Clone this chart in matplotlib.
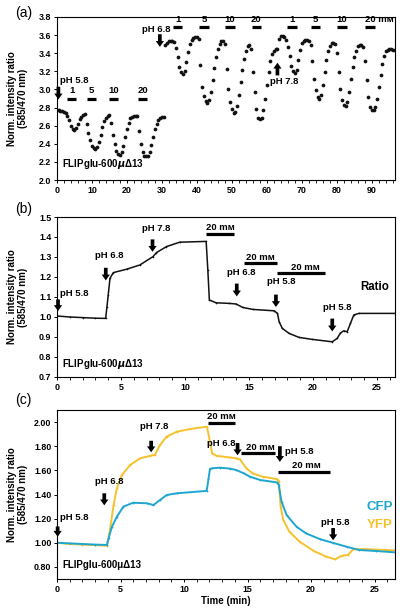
import numpy as np
import matplotlib
matplotlib.use("Agg")
import matplotlib.pyplot as plt
from matplotlib.ticker import MultipleLocator, FormatStrFormatter

plt.rcParams['font.family'] = ['Liberation Sans', 'DejaVu Sans']
plt.rcParams['font.weight'] = 'bold'
plt.rcParams['mathtext.fontset'] = 'dejavusans'

# ---------------- Panel (a) data (sampled every 0.5 min) ----------------
a_t1 = np.arange(0, 30.51, 0.5)
a_v1 = [2.77, 2.77, 2.76, 2.76, 2.75, 2.74, 2.71, 2.66, 2.60, 2.56, 2.55, 2.57, 2.62, 2.67, 2.70, 2.72, 2.73,
        2.62, 2.52, 2.44, 2.38, 2.35, 2.34, 2.36, 2.42, 2.50, 2.58, 2.65, 2.69, 2.71, 2.72,
        2.63, 2.50, 2.40, 2.32, 2.29, 2.28, 2.31, 2.38, 2.47, 2.56, 2.63, 2.68, 2.70, 2.71, 2.71, 2.71,
        2.54, 2.40, 2.31, 2.27, 2.26, 2.27, 2.31, 2.39, 2.48, 2.56, 2.62, 2.66, 2.69, 2.70, 2.70]
a_t2 = np.arange(31, 63.01, 0.5)
a_v2 = [3.49, 3.51, 3.53, 3.54, 3.54, 3.52, 3.46, 3.36, 3.25, 3.19, 3.17, 3.20, 3.30, 3.41, 3.50, 3.55, 3.57, 3.58, 3.58, 3.56,
        3.27, 3.03, 2.93, 2.87, 2.85, 2.88, 2.97, 3.10, 3.24, 3.36, 3.45, 3.50, 3.53, 3.53, 3.50,
        3.23, 3.01, 2.86, 2.78, 2.74, 2.75, 2.82, 2.94, 3.08, 3.22, 3.34, 3.43, 3.48, 3.49, 3.45,
        3.19, 2.97, 2.78, 2.69, 2.67, 2.69, 2.77, 2.90, 3.05, 3.19, 3.31, 3.39, 3.43, 3.45, 3.45]
a_t3 = np.arange(63.5, 96.51, 0.5)
a_v3 = [3.56, 3.59, 3.59, 3.58, 3.55, 3.47, 3.37, 3.26, 3.20, 3.18, 3.22, 3.33, 3.44, 3.51, 3.54, 3.55, 3.55, 3.54, 3.49,
        3.31, 3.12, 2.99, 2.92, 2.90, 2.94, 3.05, 3.19, 3.32, 3.42, 3.48, 3.51, 3.51, 3.50,
        3.40, 3.19, 3.00, 2.88, 2.83, 2.82, 2.86, 2.97, 3.11, 3.25, 3.36, 3.43, 3.48, 3.49, 3.49, 3.47,
        3.31, 3.10, 2.92, 2.81, 2.77, 2.77, 2.81, 2.90, 3.03, 3.16, 3.28, 3.37, 3.42, 3.44, 3.45, 3.45, 3.44, 3.44]
a_bar_labels = ['1', '5', '10', '20']
a_bars1 = [(2.95, 5.4), (8.5, 11.1), (15.0, 17.5), (23.2, 25.8)]
a_bars2 = [(33.2, 35.8), (40.7, 43.4), (48.0, 50.9), (55.6, 58.2)]
a_bars3 = [(65.8, 68.5), (72.5, 75.1), (79.9, 82.8), (88.0, 90.9)]

# ---------------- Panel (b) data ----------------
b_t = [0, 1, 2, 3, 3.8, 3.9, 4.0, 4.14, 4.4, 5.44, 6.47, 7.5, 7.77, 8.55, 9.58, 11.65, 11.78, 11.9,
       12.43, 13.47, 13.99, 14.5, 15.28, 16.96, 17.22, 17.35, 17.6, 18.13, 18.9, 19.94, 21.5, 21.88,
       22.14, 22.4, 22.66, 22.92, 23.18, 23.57, 26.4]
b_v = [1.005, 1.0, 0.997, 0.994, 0.993, 1.05, 1.11, 1.194, 1.222, 1.239, 1.26, 1.302, 1.322, 1.352,
       1.374, 1.378, 1.236, 1.085, 1.071, 1.068, 1.065, 1.048, 1.038, 1.031, 1.018, 0.976, 0.943,
       0.918, 0.898, 0.888, 0.876, 0.893, 0.92, 0.931, 0.926, 0.968, 1.01, 1.018, 1.018]

# ---------------- Panel (c) data ----------------
cfp_t = [0, 1, 2, 3, 3.93, 4.06, 4.32, 4.71, 5.23, 6.0, 7.07, 7.59, 8.1, 8.64, 9.43, 11.78, 11.92,
         12.04, 12.2, 12.8, 13.6, 14.1, 14.7, 15.2, 16.0, 17.3, 17.45, 17.67, 18.07, 18.85, 19.6,
         20.7, 21.7, 22.8, 23.8, 25.1, 26.7]
cfp_v = [1.0, 0.995, 0.99, 0.985, 0.982, 1.037, 1.133, 1.216, 1.30, 1.332, 1.327, 1.313, 1.354,
         1.396, 1.41, 1.43, 1.528, 1.612, 1.617, 1.622, 1.615, 1.603, 1.575, 1.547, 1.52, 1.50,
         1.48, 1.34, 1.23, 1.133, 1.078, 1.03, 1.0, 0.967, 0.94, 0.932, 0.92]
yfp_t = [0, 1, 2, 3, 3.93, 4.19, 4.45, 4.71, 5.1, 5.76, 6.54, 7.33, 7.72, 8.1, 8.64, 9.43, 10.5,
         11.8, 12.04, 12.2, 12.57, 13.6, 14.1, 14.4, 14.9, 15.4, 16.2, 17.3, 17.45, 17.6, 17.8,
         18.3, 19.1, 20.2, 21.2, 21.9, 22.4, 22.9, 23.3, 24.1, 26.7]
yfp_v = [1.0, 0.99, 0.985, 0.98, 0.976, 1.12, 1.313, 1.45, 1.56, 1.645, 1.70, 1.72, 1.73, 1.81,
         1.88, 1.92, 1.943, 1.962, 1.837, 1.74, 1.72, 1.707, 1.70, 1.69, 1.617, 1.575, 1.547,
         1.528, 1.51, 1.30, 1.19, 1.09, 1.009, 0.932, 0.885, 0.863, 0.893, 0.899, 0.946, 0.948, 0.937]

CFP_COLOR = '#1fa6cf'
YFP_COLOR = '#f5c22e'
TXT = 6.8
TICK = 6.4
MM = 'm\u1D0D'

fig = plt.figure(figsize=(4.0, 6.13), dpi=100)
L, R = 57 / 400, 395 / 400
H = 613
ax_a = fig.add_axes([L, 1 - 180 / H, R - L, (180 - 17) / H])
ax_b = fig.add_axes([L, 1 - 377 / H, R - L, (377 - 217) / H])
ax_c = fig.add_axes([L, 1 - 579 / H, R - L, (579 - 410) / H])


def arrow(ax, x, ytail, ytip):
    ax.annotate('', xy=(x, ytip), xytext=(x, ytail),
                arrowprops=dict(arrowstyle='simple,head_length=0.6,head_width=0.85,tail_width=0.38',
                                fc='k', ec='k', lw=0, shrinkA=0, shrinkB=0, mutation_scale=7))


def bar(ax, x0, x1, y, lw=2.3):
    ax.plot([x0, x1], [y, y], color='k', lw=lw, solid_capstyle='butt')


def style(ax):
    for s in ax.spines.values():
        s.set_linewidth(0.8)
    ax.tick_params(axis='both', labelsize=TICK, width=0.7, length=2.5, pad=1.5)
    ax.tick_params(axis='both', which='minor', width=0.6, length=1.8)
    ax.set_ylabel('Norm. intensity ratio\n(585/470 nm)', fontsize=7, fontweight='bold', linespacing=1.15)
    ax.yaxis.set_label_coords(-0.085, 0.5)


# ---- (a) ----
for t, v in [(a_t1, a_v1), (a_t2, a_v2), (a_t3, a_v3)]:
    ax_a.plot(t, v, ls='none', marker='o', ms=2.7, color='#111111', mew=0)
ax_a.set_xlim(0, 96.6)
ax_a.set_ylim(2.0, 3.8)
ax_a.xaxis.set_major_locator(MultipleLocator(10))
ax_a.xaxis.set_minor_locator(MultipleLocator(2))
ax_a.yaxis.set_major_locator(MultipleLocator(0.2))
ax_a.yaxis.set_major_formatter(FormatStrFormatter('%.1f'))
style(ax_a)
for (x0, x1), lab in zip(a_bars1, a_bar_labels):
    bar(ax_a, x0, x1, 2.893)
    ax_a.text((x0 + x1) / 2, 2.985, lab, ha='center', va='center', fontsize=TXT)
for (x0, x1), lab in zip(a_bars2, a_bar_labels):
    bar(ax_a, x0, x1, 3.686)
    ax_a.text((x0 + x1) / 2, 3.772, lab, ha='center', va='center', fontsize=TXT)
for (x0, x1), lab in zip(a_bars3, a_bar_labels):
    bar(ax_a, x0, x1, 3.686)
    if lab == '20':
        ax_a.text(x0, 3.772, '20 ' + MM, ha='left', va='center', fontsize=TXT)
    else:
        ax_a.text((x0 + x1) / 2, 3.772, lab, ha='center', va='center', fontsize=TXT)
ax_a.text(0.9, 3.10, 'pH 5.8', ha='left', va='center', fontsize=TXT)
arrow(ax_a, 0.4, 3.03, 2.89)
ax_a.text(32.4, 3.664, 'pH 6.8', ha='right', va='center', fontsize=TXT)
arrow(ax_a, 29.4, 3.61, 3.47)
ax_a.text(60.8, 3.085, 'pH 7.8', ha='left', va='center', fontsize=TXT)
arrow(ax_a, 63.0, 3.155, 3.295)
ax_a.text(1.3, 2.18, r'FLIPglu-600$\mu$Δ13', ha='left', va='center', fontsize=7)
fig.text(15 / 400, 1 - 13 / H, '(a)', ha='left', va='center', fontsize=10, fontweight='normal')

# ---- (b) ----
ax_b.plot(b_t, b_v, color='#111111', lw=1.1, marker='o', ms=1.2, mew=0)
ax_b.set_xlim(0, 26.4)
ax_b.set_ylim(0.7, 1.5)
ax_b.xaxis.set_major_locator(MultipleLocator(5))
ax_b.xaxis.set_minor_locator(MultipleLocator(1))
ax_b.yaxis.set_major_locator(MultipleLocator(0.1))
ax_b.yaxis.set_major_formatter(FormatStrFormatter('%.1f'))
style(ax_b)
ax_b.text(0.26, 1.119, 'pH 5.8', ha='left', va='center', fontsize=TXT)
arrow(ax_b, 0.08, 1.088, 1.03)
ax_b.text(2.98, 1.306, 'pH 6.8', ha='left', va='center', fontsize=TXT)
arrow(ax_b, 3.81, 1.246, 1.183)
ax_b.text(6.6, 1.445, 'pH 7.8', ha='left', va='center', fontsize=TXT)
arrow(ax_b, 7.46, 1.388, 1.326)
bar(ax_b, 11.66, 13.86, 1.415)
ax_b.text(12.76, 1.447, '20 ' + MM, ha='center', va='center', fontsize=TXT)
ax_b.text(13.3, 1.222, 'pH 6.8', ha='left', va='center', fontsize=TXT)
arrow(ax_b, 14.04, 1.167, 1.103)
bar(ax_b, 14.6, 17.2, 1.269)
ax_b.text(15.9, 1.297, '20 ' + MM, ha='center', va='center', fontsize=TXT)
ax_b.text(16.4, 1.177, 'pH 5.8', ha='left', va='center', fontsize=TXT)
arrow(ax_b, 17.1, 1.112, 1.05)
bar(ax_b, 17.2, 20.9, 1.222)
ax_b.text(19.4, 1.25, '20 ' + MM, ha='center', va='center', fontsize=TXT)
ax_b.text(23.7, 1.152, 'Ratio', ha='left', va='center', fontsize=8.3)
ax_b.text(20.8, 1.048, 'pH 5.8', ha='left', va='center', fontsize=TXT)
arrow(ax_b, 21.5, 0.992, 0.928)
ax_b.text(0.39, 0.767, r'FLIPglu-600$\mu$Δ13', ha='left', va='center', fontsize=7)
fig.text(15 / 400, 1 - 209 / H, '(b)', ha='left', va='center', fontsize=10, fontweight='normal')

# ---- (c) ----
ax_c.plot(yfp_t, yfp_v, color=YFP_COLOR, lw=1.4, marker='+', ms=2.0, mew=0.6)
ax_c.plot(cfp_t, cfp_v, color=CFP_COLOR, lw=1.4, marker='+', ms=2.0, mew=0.6)
ax_c.set_xlim(0, 26.6)
ax_c.set_ylim(0.7, 2.1)
ax_c.xaxis.set_major_locator(MultipleLocator(5))
ax_c.xaxis.set_minor_locator(MultipleLocator(1))
ax_c.yaxis.set_major_locator(MultipleLocator(0.2))
ax_c.yaxis.set_major_formatter(FormatStrFormatter('%.2f'))
style(ax_c)
ax_c.set_xlabel('Time (min)', fontsize=7, fontweight='bold', labelpad=2)
ax_c.text(0.26, 1.206, 'pH 5.8', ha='left', va='center', fontsize=TXT)
arrow(ax_c, 0.05, 1.135, 1.05)
ax_c.text(3.0, 1.51, 'pH 6.8', ha='left', va='center', fontsize=TXT)
arrow(ax_c, 3.72, 1.41, 1.31)
ax_c.text(6.54, 1.962, 'pH 7.8', ha='left', va='center', fontsize=TXT)
arrow(ax_c, 7.41, 1.845, 1.75)
bar(ax_c, 11.9, 14.03, 1.995)
ax_c.text(12.96, 2.05, '20 ' + MM, ha='center', va='center', fontsize=TXT)
ax_c.text(11.78, 1.824, 'pH 6.8', ha='left', va='center', fontsize=TXT)
arrow(ax_c, 14.21, 1.826, 1.725)
bar(ax_c, 14.5, 17.15, 1.741)
ax_c.text(15.97, 1.79, '20 ' + MM, ha='center', va='center', fontsize=TXT)
arrow(ax_c, 17.54, 1.80, 1.67)
ax_c.text(17.93, 1.755, 'pH 5.8', ha='left', va='center', fontsize=TXT)
bar(ax_c, 17.4, 21.47, 1.589)
ax_c.text(19.6, 1.639, '20 ' + MM, ha='center', va='center', fontsize=TXT)
ax_c.text(20.8, 1.167, 'pH 5.8', ha='left', va='center', fontsize=TXT)
arrow(ax_c, 21.73, 1.122, 1.021)
ax_c.text(24.35, 1.294, 'CFP', ha='left', va='center', fontsize=9.5, color=CFP_COLOR)
ax_c.text(24.35, 1.147, 'YFP', ha='left', va='center', fontsize=9.5, color=YFP_COLOR)
ax_c.text(0.39, 0.816, 'FLIPglu-600μΔ13', ha='left', va='center', fontsize=7)
fig.text(15 / 400, 1 - 400 / H, '(c)', ha='left', va='center', fontsize=10, fontweight='normal')

fig.savefig('out.png', dpi=100)
